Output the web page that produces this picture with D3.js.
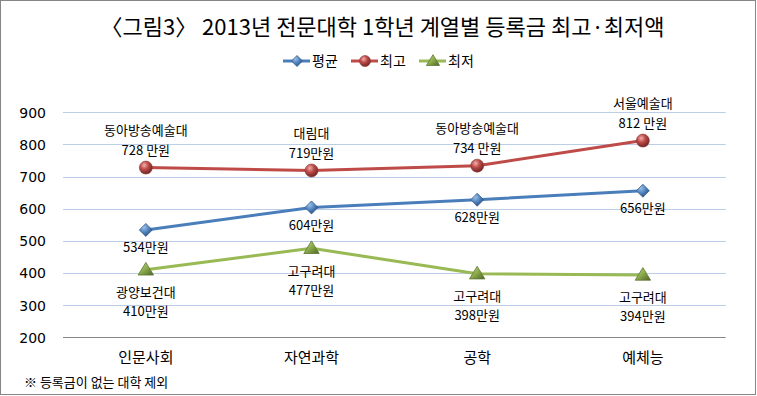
<!DOCTYPE html>
<html><head><meta charset="utf-8">
<script src="https://cdn.jsdelivr.net/npm/d3@7"></script>
<style>
html,body{margin:0;padding:0;background:#fff;}
text{font-family:"Noto Sans CJK KR","Noto Sans",sans-serif;fill:#000;}
</style></head>
<body><svg id="c" width="757" height="396"></svg>
<script>
const categories = ["인문사회", "자연과학", "공학", "예체능"];
const avgValues = [534, 604, 628, 656];
const maxValues = [728, 719, 734, 812];
const minValues = [410, 477, 398, 394];
const avgLabels = ["534만원", "604만원", "628만원", "656만원"];
const maxLabels = ["728 만원", "719만원", "734 만원", "812 만원"];
const maxSchools = ["동아방송예술대", "대림대", "동아방송예술대", "서울예술대"];
const minLabels = ["410만원", "477만원", "398만원", "394만원"];
const minSchools = ["광양보건대", "고구려대", "고구려대", "고구려대"];
const yTicks = [200, 300, 400, 500, 600, 700, 800, 900];
const seriesNames = ["평균", "최고", "최저"];
const title = "〈그림3〉 2013년 전문대학 1학년 계열별 등록금 최고·최저액";
const footnote = "※ 등록금이 없는 대학 제외";

const svg = d3.select("#c");
const plotL = 63, plotR = 725.7, plotT = 112.3, plotB = 337.3;

// defs
const defs = svg.append("defs");
const g1 = defs.append("radialGradient").attr("id","gBlue").attr("cx","35%").attr("cy","30%").attr("r","75%");
g1.append("stop").attr("offset","0%").attr("stop-color","#9cc0ea");
g1.append("stop").attr("offset","55%").attr("stop-color","#4a7ebb");
g1.append("stop").attr("offset","100%").attr("stop-color","#2c4d75");
const g2 = defs.append("radialGradient").attr("id","gRed").attr("cx","38%").attr("cy","32%").attr("r","70%");
g2.append("stop").attr("offset","0%").attr("stop-color","#f2b0ae");
g2.append("stop").attr("offset","45%").attr("stop-color","#be4b48");
g2.append("stop").attr("offset","100%").attr("stop-color","#6e2422");
const g3 = defs.append("linearGradient").attr("id","gGreen").attr("x1","0").attr("y1","0").attr("x2","1").attr("y2","1");
g3.append("stop").attr("offset","0%").attr("stop-color","#c4dc8e");
g3.append("stop").attr("offset","50%").attr("stop-color","#8aab4a");
g3.append("stop").attr("offset","100%").attr("stop-color","#4f6228");

// border
svg.append("rect").attr("x",0.5).attr("y",0.5).attr("width",755).attr("height",394)
  .attr("fill","#fff").attr("stroke","#868686").attr("stroke-width",1);

const x = d3.scaleBand().domain(categories).range([plotL, plotR]).padding(0);
const y = d3.scaleLinear().domain([200, 900]).range([plotB, plotT]);
const cx = d => x(d) + x.bandwidth()/2;

// gridlines
svg.append("g").selectAll("line").data(yTicks.filter(t => t > 200)).join("line")
  .attr("x1", plotL).attr("x2", plotR)
  .attr("y1", d => Math.round(y(d)) + 0.5).attr("y2", d => Math.round(y(d)) + 0.5)
  .attr("stroke", "#bccde6").attr("stroke-width", 1);

// y axis labels
const yAxis = d3.axisLeft(y).tickValues(yTicks).tickSize(0).tickPadding(0);
const ya = svg.append("g").attr("transform", "translate(46,0)").call(yAxis);
ya.select(".domain").remove();
ya.selectAll("text").attr("fill","#000").attr("dy","0.35em")
  .style("font-family","'DejaVu Sans','Noto Sans',sans-serif").style("font-size","14px");

// x axis
svg.append("line").attr("x1", plotL).attr("x2", plotR)
  .attr("y1", Math.round(plotB)+0.5).attr("y2", Math.round(plotB)+0.5)
  .attr("stroke","#868686").attr("stroke-width",1);
const xAxis = d3.axisBottom(x).tickSize(0).tickPadding(0);
const xa = svg.append("g").attr("transform", `translate(0,${plotB})`).call(xAxis);
xa.select(".domain").remove();
xa.selectAll("text").attr("dy", "0.35em").attr("y", 20).style("font-size","15px").attr("fill","#000")
  .style("font-family","'Noto Sans CJK KR',sans-serif");

// lines
const colors = ["#4a7ebb", "#be4b48", "#98b954"];
const allSeries = [avgValues, maxValues, minValues];
const line = d3.line().x((d,i) => cx(categories[i])).y(d => y(d));
allSeries.forEach((vals, s) => {
  svg.append("path").datum(vals).attr("d", line).attr("fill","none")
    .attr("stroke", colors[s]).attr("stroke-width", 3).attr("stroke-linejoin","round");
});

// markers
function diamond(g, px, py, r) {
  g.append("path").attr("d", `M${px},${py-r}L${px+r},${py}L${px},${py+r}L${px-r},${py}Z`)
    .attr("fill","url(#gBlue)").attr("stroke","#385d8a").attr("stroke-width",0.8);
}
function circle(g, px, py, r) {
  g.append("circle").attr("cx",px).attr("cy",py).attr("r",r)
    .attr("fill","url(#gRed)").attr("stroke","#8c3836").attr("stroke-width",0.6);
}
function triangle(g, px, py, r) {
  g.append("path").attr("d", `M${px},${py-r*1.05}L${px+r*1.1},${py+r*0.75}L${px-r*1.1},${py+r*0.75}Z`)
    .attr("fill","url(#gGreen)").attr("stroke","#5e7531").attr("stroke-width",0.8);
}
const mk = svg.append("g");
avgValues.forEach((v,i) => diamond(mk, cx(categories[i]), y(v), 6.5));
maxValues.forEach((v,i) => circle(mk, cx(categories[i]), y(v), 6.5));
minValues.forEach((v,i) => triangle(mk, cx(categories[i]), y(v), 7));

// data labels
const lab = svg.append("g").style("font-size","13px").attr("text-anchor","middle");
avgValues.forEach((v,i) => {
  lab.append("text").attr("x", cx(categories[i])).attr("y", y(v) + 18).attr("dy","0.35em").text(avgLabels[i]);
});
maxValues.forEach((v,i) => {
  lab.append("text").attr("x", cx(categories[i])).attr("y", y(v) - 37).attr("dy","0.35em").text(maxSchools[i]);
  lab.append("text").attr("x", cx(categories[i])).attr("y", y(v) - 17).attr("dy","0.35em").text(maxLabels[i]);
});
minValues.forEach((v,i) => {
  lab.append("text").attr("x", cx(categories[i])).attr("y", y(v) + 23).attr("dy","0.35em").text(minSchools[i]);
  lab.append("text").attr("x", cx(categories[i])).attr("y", y(v) + 42).attr("dy","0.35em").text(minLabels[i]);
});

// title
svg.append("text").attr("x", 382.5).attr("y", 27).attr("dy","0.35em").attr("text-anchor","middle")
  .style("font-size","22px").text(title);

// legend
const legX = [283, 351, 419];
const leg = svg.append("g");
seriesNames.forEach((n, s) => {
  const lx = legX[s], ly = 61;
  leg.append("line").attr("x1", lx).attr("x2", lx+27).attr("y1", ly).attr("y2", ly)
    .attr("stroke", colors[s]).attr("stroke-width", 3);
  if (s === 0) diamond(leg, lx+14, ly, 5.5);
  if (s === 1) circle(leg, lx+14, ly, 5.5);
  if (s === 2) triangle(leg, lx+14, ly, 6);
  leg.append("text").attr("x", lx+29).attr("y", ly).attr("dy","0.35em").style("font-size","14px").text(n);
});

// footnote
svg.append("text").attr("x", 24).attr("y", 382).attr("dy","0.35em").style("font-size","13px").text(footnote);
</script></body></html>
